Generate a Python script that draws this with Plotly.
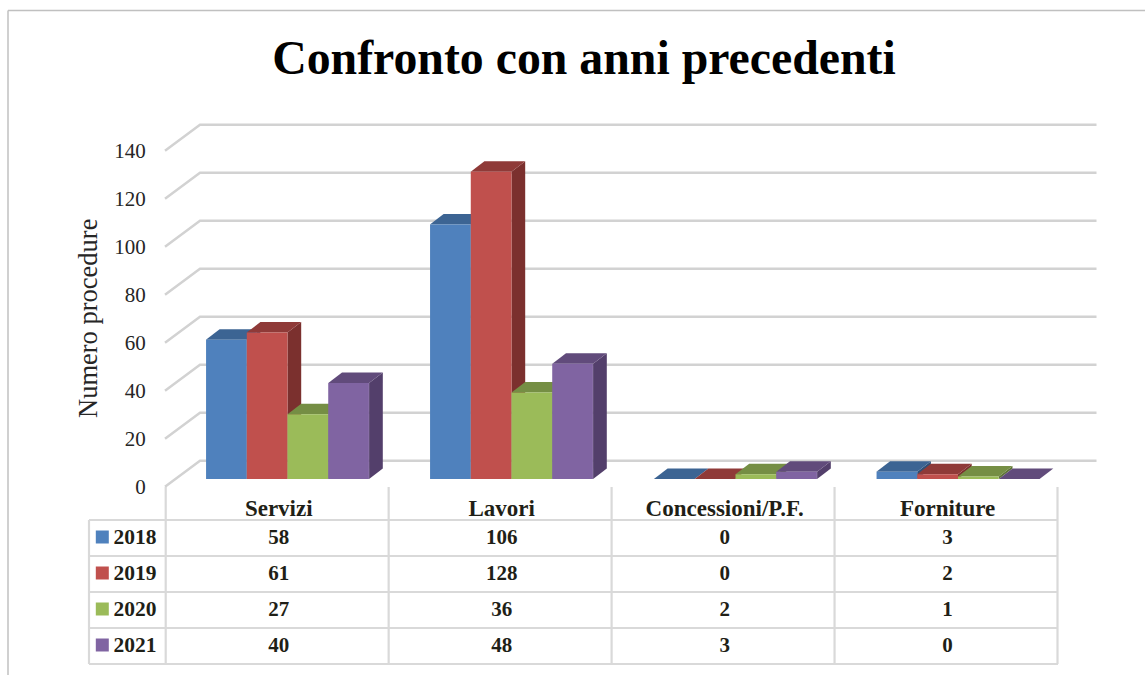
import plotly.graph_objects as go

categories = ["Servizi", "Lavori", "Concessioni/P.F.", "Forniture"]
years = ["2018", "2019", "2020", "2021"]
v2018 = [58, 106, 0, 3]
v2019 = [61, 128, 0, 2]
v2020 = [27, 36, 2, 1]
v2021 = [40, 48, 3, 0]
series = [v2018, v2019, v2020, v2021]
y_ticks = [0, 20, 40, 60, 80, 100, 120, 140]

front = ["#4F81BD", "#C0504D", "#9BBB59", "#8064A2"]
top = ["#3C6493", "#8F3A38", "#758E44", "#614B7B"]
side = ["#2F4F75", "#7B302E", "#5F7437", "#533F6B"]

W, H = 1145, 675
PX_PER_UNIT = 2.4
PX_PER_CAT = 222.95
X0_PX = 165.7
Y0_PX = 486.7

FONT = "Liberation Serif"
INK = "#1f1f17"
GRID = "#d2d2d2"
TABLE = "#d9d9d9"
FRAME = "#c0c0c0"


def ux(px):
    return (px - X0_PX) / PX_PER_CAT


def uy(py):
    return (Y0_PX - py) / PX_PER_UNIT


BAR_BASE = uy(479)
BAR_W = 40.8 / PX_PER_CAT
DEPTH_X = 13.7 / PX_PER_CAT
DEPTH_Y = 10.5 / PX_PER_UNIT
GROUP_CENTER = [ux(287.5), ux(511.5), ux(735.5), ux(958)]
ROW_EDGES = [520, 556, 592, 628, 664]
ROW_MID = [(ROW_EDGES[i] + ROW_EDGES[i + 1]) / 2 - 1 for i in range(4)]
COL_MID = [i + 0.5 for i in range(4)]
TEXT_X = [c + 0.007 for c in COL_MID]
TEXT_DROP = 2

fig = go.Figure()
shapes = []


def path(points, fill=None, line=None, width=0):
    d = "M " + " L ".join(f"{a:.5f} {b:.5f}" for a, b in points)
    if fill:
        d += " Z"
    s = dict(type="path", xref="x", yref="y", path=d, layer="below")
    if fill:
        s["fillcolor"] = fill
        s["line"] = dict(width=0)
    else:
        s["line"] = dict(color=line, width=width)
    return s


def seg(xa, ya, xb, yb, color, width):
    return dict(type="line", xref="x", yref="y", x0=ux(xa), y0=uy(ya), x1=ux(xb), y1=uy(yb),
                layer="below", line=dict(color=color, width=width))


# frame round the picture
shapes.append(seg(8, 10.5, W, 10.5, FRAME, 1.5))
shapes.append(seg(8, 10.5, 8, H, FRAME, 1.5))

# walls: gridlines from front edge to the back wall
for t in y_ticks:
    back_shift = uy(460.7)
    shapes.append(path([(ux(165), t), (ux(200), t + back_shift), (ux(1096.5), t + back_shift)],
                       line=GRID, width=2.5))

# table rules
for yy in ROW_EDGES:
    shapes.append(seg(89, yy, 1058, yy, TABLE, 2.2))
for xx in [X0_PX, X0_PX + PX_PER_CAT, X0_PX + 2 * PX_PER_CAT, X0_PX + 3 * PX_PER_CAT, X0_PX + 4 * PX_PER_CAT]:
    shapes.append(seg(xx, 487, xx, 664, TABLE, 2.2))
shapes.append(seg(89, 520, 89, 664, TABLE, 2.2))

# 3-D sides and tops, from the values
for c in range(4):
    for s_i, vals in enumerate(series):
        v = vals[c]
        xl = GROUP_CENTER[c] + (s_i - 2) * BAR_W
        xr = xl + BAR_W
        y_top = BAR_BASE + v
        if v > 0:
            shapes.append(path([(xr, BAR_BASE), (xr + DEPTH_X, BAR_BASE + DEPTH_Y),
                                (xr + DEPTH_X, y_top + DEPTH_Y), (xr, y_top)], fill=side[s_i]))
        shapes.append(path([(xl, y_top), (xl + DEPTH_X, y_top + DEPTH_Y),
                            (xr + DEPTH_X, y_top + DEPTH_Y), (xr, y_top)], fill=top[s_i]))

# front faces
for s_i, vals in enumerate(series):
    fig.add_trace(go.Bar(x=GROUP_CENTER, y=vals, base=BAR_BASE, name=years[s_i],
                         marker=dict(color=front[s_i], line=dict(width=0))))

# data table: values
for s_i, vals in enumerate(series):
    fig.add_trace(go.Scatter(x=TEXT_X, y=[uy(ROW_MID[s_i] + TEXT_DROP)] * 4, mode="text",
                             text=[str(v) for v in vals], textposition="middle center",
                             textfont=dict(family=FONT, size=21, color=INK, weight="bold"),
                             showlegend=False, cliponaxis=False, hoverinfo="skip"))

# data table: legend keys
fig.add_trace(go.Scatter(x=[ux(102.3)] * 4, y=[uy(m) for m in ROW_MID], mode="markers",
                         marker=dict(symbol="square", size=13, color=front, line=dict(width=0)),
                         showlegend=False, hoverinfo="skip"))
fig.add_trace(go.Scatter(x=[ux(113.5)] * 4, y=[uy(m + TEXT_DROP) for m in ROW_MID], mode="text",
                         text=years, textposition="middle right",
                         textfont=dict(family=FONT, size=21.5, color=INK, weight="bold"),
                         showlegend=False, hoverinfo="skip"))

fig.update_layout(
    width=W, height=H,
    margin=dict(l=0, r=0, t=0, b=0),
    paper_bgcolor="white", plot_bgcolor="white",
    barmode="group", bargap=1 - 4 * BAR_W, showlegend=False,
    shapes=shapes,
    title=dict(text="<b>Confronto con anni precedenti</b>", x=584 / W, y=1 - 57 / H,
               xanchor="center", yanchor="middle",
               font=dict(family=FONT, size=47.8, color="black")),
    xaxis=dict(range=[ux(0), ux(W)], domain=[0, 1], anchor="free", position=1 - 487 / H,
               tickvals=TEXT_X, ticktext=[f"<b>{c}</b>" for c in categories],
               tickfont=dict(family=FONT, size=23, color=INK), ticks="", ticklabelstandoff=5,
               showgrid=False, zeroline=False, showline=False),
    yaxis=dict(range=[uy(H), uy(0)], domain=[0, 1], anchor="free", position=X0_PX / W,
               tickvals=y_ticks, tickfont=dict(family=FONT, size=21, color="#262626"),
               ticks="", ticklabelstandoff=20,
               showgrid=False, zeroline=False, showline=False),
    annotations=[dict(text="Numero procedure", xref="x", yref="y", x=ux(88), y=uy(319),
                      textangle=-90, showarrow=False,
                      font=dict(family=FONT, size=26.5, color="#262626"))],
)

fig.write_html("out.html", config=dict(displayModeBar=False),
               post_script="document.body.style.margin='0';")
